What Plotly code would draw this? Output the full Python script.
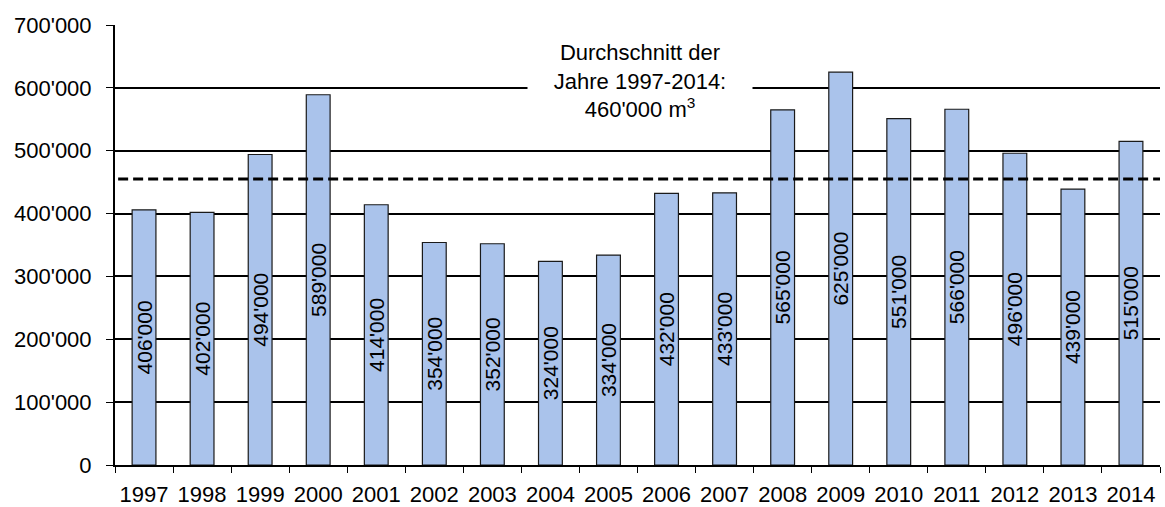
import plotly.graph_objects as go

years = ["1997", "1998", "1999", "2000", "2001", "2002", "2003", "2004", "2005",
         "2006", "2007", "2008", "2009", "2010", "2011", "2012", "2013", "2014"]
volumes = [406000, 402000, 494000, 589000, 414000, 354000, 352000, 324000, 334000,
           432000, 433000, 565000, 625000, 551000, 566000, 496000, 439000, 515000]
average_line = 455000
y_ticks = [0, 100000, 200000, 300000, 400000, 500000, 600000, 700000]


def fmt(v):
    return f"{v:,}".replace(",", "'")


labels = [fmt(v) for v in volumes]
y_ticktext = [fmt(v) for v in y_ticks]

FONT = "Liberation Sans, Arial, sans-serif"
FS = 22

fig = go.Figure()
fig.add_trace(go.Bar(
    x=years, y=volumes, width=0.41,
    marker=dict(color="#AAC3EB", line=dict(color="#1a1a1a", width=1.2)),
    text=labels, textposition="inside", textangle=-90,
    insidetextanchor="middle", constraintext="none",
    textfont=dict(family=FONT, size=21, color="black"),
    hoverinfo="skip",
))

fig.add_shape(type="line", xref="paper", x0=0.003, x1=1, yref="y",
              y0=average_line, y1=average_line,
              line=dict(color="black", width=3, dash="10px,5px"), layer="above")

fig.add_annotation(
    xref="paper", x=0.502, yref="y", y=611000,
    text="Durchschnitt der<br>Jahre 1997-2014:<br>460'000 m<sup>3</sup>",
    showarrow=False, bgcolor="white", width=222, align="center",
    font=dict(family=FONT, size=FS, color="black"),
)

fig.update_layout(
    width=1165, height=507,
    margin=dict(l=115, r=5, t=25, b=42),
    paper_bgcolor="white", plot_bgcolor="white",
    showlegend=False,
    font=dict(family=FONT, size=FS, color="black"),
)
fig.update_xaxes(
    type="category", tickson="boundaries", ticks="outside", ticklen=6,
    tickcolor="black", showline=True, linecolor="black", linewidth=2,
    showgrid=False, tickfont=dict(family=FONT, size=FS, color="black"),
    range=[-0.5, 17.5], automargin=False, ticklabelstandoff=9,
)
fig.update_yaxes(
    range=[0, 700000], tickvals=y_ticks, ticktext=y_ticktext,
    ticks="outside", ticklen=7, tickcolor="black",
    showline=True, linecolor="black", linewidth=2,
    showgrid=True, gridcolor="black", gridwidth=1.5,
    zeroline=False, tickfont=dict(family=FONT, size=FS, color="black"),
    ticklabelstandoff=10, automargin=False,
)

fig.write_html(
    "out.html",
    config={"displayModeBar": False},
    post_script="document.body.style.margin='0';document.body.style.overflow='hidden';",
)
